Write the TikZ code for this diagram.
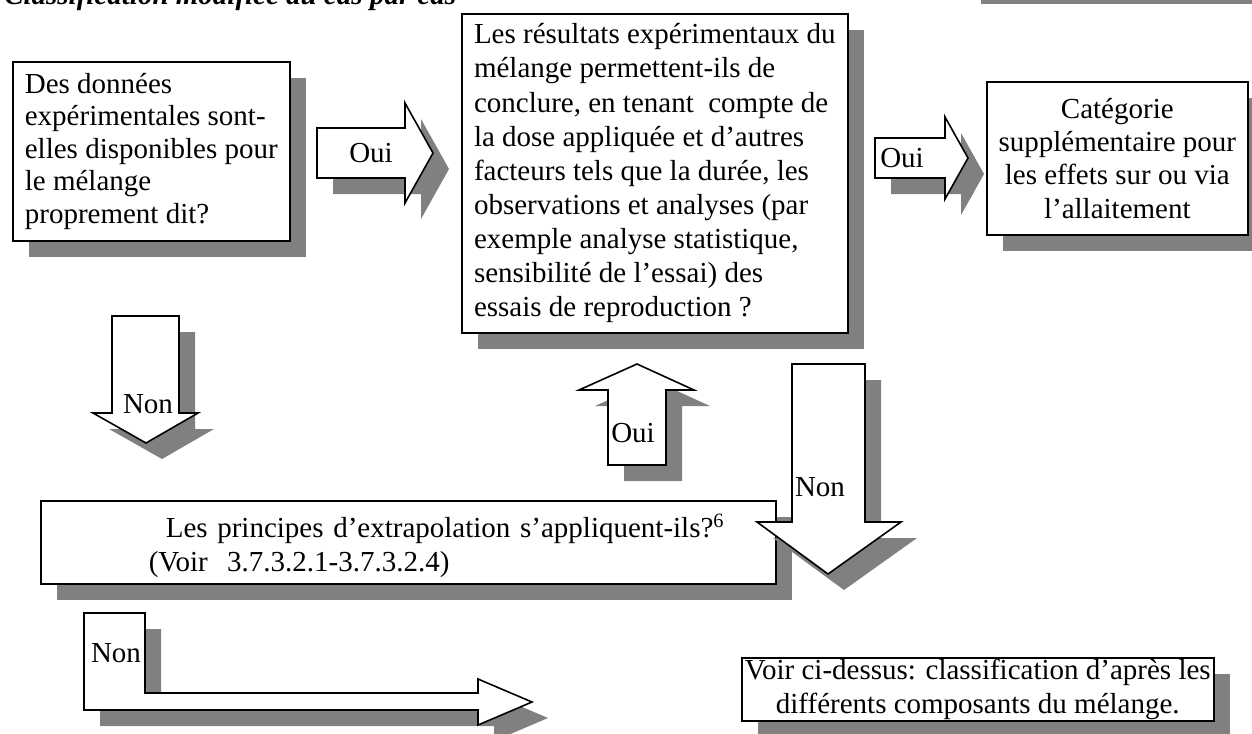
\documentclass[tikz,border=0pt]{standalone}
\usepackage{fontspec}
\setmainfont{Liberation Serif}
\usetikzlibrary{shadows}
\definecolor{shadowgray}{HTML}{808080}
\newcommand\bodyfont{\fontsize{21.75pt}{25pt}\selectfont}
\tikzset{
  shad/.style={drop shadow={shadow xshift=12pt, shadow yshift=-12pt, opacity=1, fill=shadowgray}},
  box/.style={draw=black, line width=1.2pt, fill=white, shad, inner xsep=0pt, inner ysep=0pt, anchor=north west, font=\bodyfont},
  blockarrow/.style={draw=black, line width=1.2pt, fill=white, shad, line join=miter},
  lbl/.style={font=\bodyfont, inner sep=0pt, anchor=base},
}
\begin{document}
\begin{tikzpicture}[x=0.75pt,y=-0.75pt]
\useasboundingbox (0,0) rectangle (1252,733);
\clip (0,0) rectangle (1252,733);
\fill[white] (0,0) rectangle (1252,733);
% title (cut at top)
\node[anchor=base west, inner sep=0pt, font=\bodyfont\bfseries\itshape] (title) at (4,4) {Classification modifiée au cas par cas};
% grey fragment top right
\fill[shadowgray] (981,-20) rectangle (1252,4);
% boxes
\node[box, align=left, minimum width=207.75pt, minimum height=134.25pt, font=\fontsize{21.75pt}{24.4pt}\selectfont] (q1) at (12,61)
  {Des données\\expérimentales sont-\\elles disponibles pour\\le mélange\\proprement dit?};
\node[box, align=left, minimum width=289.5pt, minimum height=239.25pt, font=\fontsize{21.75pt}{25.6pt}\selectfont] (q2) at (461,13)
  {Les résultats expérimentaux du\\mélange permettent-ils de\\conclure, en tenant\ \ compte de\\la dose appliquée et d’autres\\facteurs tels que la durée, les\\observations et analyses (par\\exemple analyse statistique,\\sensibilité de l’essai) des\\essais de reproduction ?};
\node[box, align=center, minimum width=195.75pt, minimum height=114.75pt] (cat) at (986,81)
  {Catégorie\\supplémentaire pour\\les effets sur ou via\\l’allaitement};
\node[box, align=left, text width=551.25pt, minimum height=62.25pt] (extra) at (40,500)
  {\rule{0pt}{23pt}\hspace*{93.75pt}Les principes d’extrapolation s’appliquent-ils?\textsuperscript{6}\\\hspace*{81pt}(Voir\ \ 3.7.3.2.1-3.7.3.2.4)};
\node[box, align=center, minimum width=354pt, minimum height=47.25pt] (voir) at (741,657)
  {Voir ci-dessus: classification d’après les\\différents composants du mélange.};
% block arrows
\draw[blockarrow] (317,128) -- (405,128) -- (405,103) -- (433,153) -- (405,203) -- (405,178) -- (317,178) -- cycle;
\node[lbl] (oui1) at (371,162) {Oui};
\draw[blockarrow] (875,138) -- (945,138) -- (945,117) -- (968,158) -- (945,199) -- (945,178) -- (875,178) -- cycle;
\node[lbl] (oui2) at (902,167) {Oui};
\draw[blockarrow] (112,316) -- (179,316) -- (179,413) -- (198,413) -- (146,443) -- (93,413) -- (112,413) -- cycle;
\node[lbl] (non1) at (148,413) {Non};
\draw[blockarrow] (608,465) -- (608,390) -- (579,390) -- (637,364) -- (694,390) -- (666,390) -- (666,465) -- cycle;
\node[lbl] (oui3) at (633,442) {Oui};
\draw[blockarrow] (792,364) -- (865,364) -- (865,522) -- (901,522) -- (828,574) -- (757,522) -- (792,522) -- cycle;
\node[lbl] (non2) at (820,496) {Non};
\draw[blockarrow] (84,613) -- (145,613) -- (145,693) -- (478,693) -- (478,679) -- (532,702) -- (478,725) -- (478,710) -- (84,710) -- cycle;
\node[lbl] (non3) at (116,662) {Non};
\end{tikzpicture}
\end{document}
